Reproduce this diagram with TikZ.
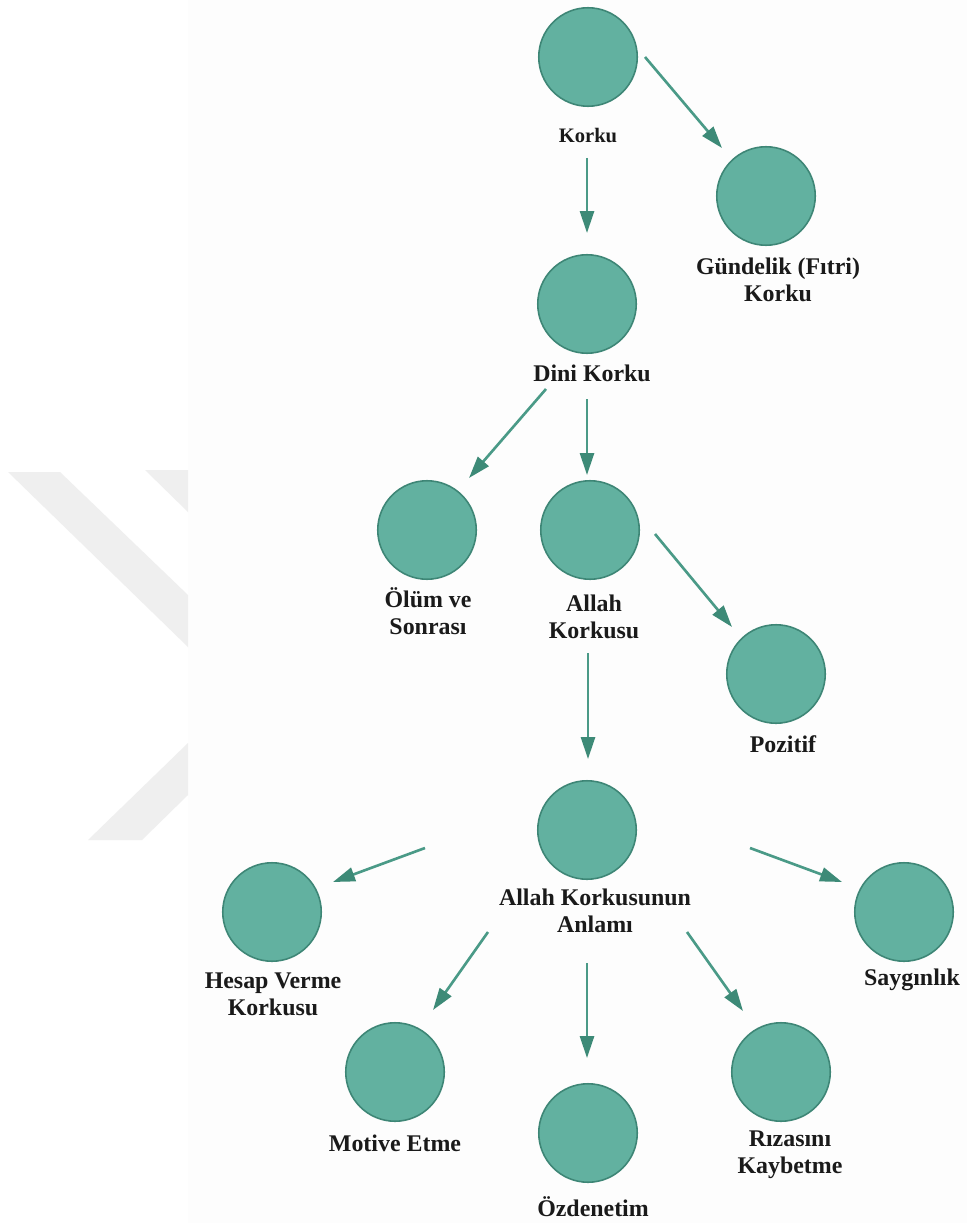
\documentclass[tikz,border=0pt]{standalone}
\usepackage{fontspec}
\setmainfont{Liberation Serif}
\usetikzlibrary{arrows.meta}
\definecolor{nodefill}{HTML}{62B1A0}
\definecolor{nodeedge}{HTML}{3E8676}
\definecolor{arrowcol}{HTML}{4A9A87}
\definecolor{headcol}{HTML}{3D8A77}
\definecolor{wmark}{HTML}{EFEFEF}
\definecolor{paper}{HTML}{FDFDFD}
\definecolor{ink}{HTML}{1A1A1A}
\begin{document}
\begin{tikzpicture}[x=0.02cm,y=-0.02cm,
  bubble/.style={circle,fill=nodefill,draw=nodeedge,line width=0.9pt,minimum size=1.97cm,inner sep=0pt},
  lbl/.style={font=\fontsize{13.6}{15.5}\selectfont\bfseries,text=ink,align=center,inner sep=0pt},
  smalllbl/.style={lbl,font=\fontsize{11.7}{14}\selectfont\bfseries},
  link/.style={draw=arrowcol,line width=1.5pt,-{Triangle[length=12.5pt,width=8pt,color=headcol]}}]
\useasboundingbox (0,0) rectangle (967,1223);
\fill[white] (0,0) rectangle (967,1223);
\fill[paper] (188,0) rectangle (967,1223);
% faint watermark
\fill[wmark] (8,472) -- (60,472) -- (188,595) -- (188,647) -- cycle;
\fill[wmark] (145,470) -- (188,470) -- (188,512) -- cycle;
\fill[wmark] (188,743) -- (188,795) -- (142,840) -- (88,840) -- cycle;
% nodes
\node[bubble] (korku) at (588,57) {};
\node[smalllbl] (korkuL) at (588,135) {Korku};
\node[bubble] (gundelik) at (766,196) {};
\node[lbl] (gundelikL) at (778,280) {Gündelik (Fıtri)\\Korku};
\node[bubble] (dini) at (587,304) {};
\node[lbl] (diniL) at (592,373) {Dini Korku};
\node[bubble] (olum) at (427,530) {};
\node[lbl] (olumL) at (428,611) {Ölüm ve\\Sonrası};
\node[bubble] (allah) at (590,530) {};
\node[lbl] (allahL) at (594,617) {Allah\\Korkusu};
\node[bubble] (pozitif) at (776,674) {};
\node[lbl] (pozitifL) at (783,744) {Pozitif};
\node[bubble] (anlam) at (587,830) {};
\node[lbl] (anlamL) at (595,911) {Allah Korkusunun\\Anlamı};
\node[bubble] (hesap) at (272,912) {};
\node[lbl] (hesapL) at (273,994) {Hesap Verme\\Korkusu};
\node[bubble] (saygi) at (904,912) {};
\node[lbl] (saygiL) at (912,980) {Saygınlık};
\node[bubble] (motive) at (395,1072) {};
\node[lbl] (motiveL) at (395,1143) {Motive Etme};
\node[bubble] (oz) at (588,1133) {};
\node[lbl] (ozL) at (593,1207) {Özdenetim};
\node[bubble] (riza) at (781,1072) {};
\node[lbl] (rizaL) at (790,1155) {Rızasını\\Kaybetme};
% connector ends
\coordinate (s1) at (645,57);  \coordinate (e1) at (722,148);
\coordinate (s2) at (587,158); \coordinate (e2) at (587,233);
\coordinate (s3) at (546,389); \coordinate (e3) at (469,478);
\coordinate (s4) at (587,399); \coordinate (e4) at (587,475);
\coordinate (s5) at (655,534); \coordinate (e5) at (732,627);
\coordinate (s6) at (588,653); \coordinate (e6) at (588,759);
\coordinate (s7) at (425,848); \coordinate (e7) at (333,882);
\coordinate (s8) at (488,932); \coordinate (e8) at (433,1010);
\coordinate (s9) at (587,963); \coordinate (e9) at (587,1058);
\coordinate (s10) at (687,932); \coordinate (e10) at (743,1011);
\coordinate (s11) at (750,848); \coordinate (e11) at (842,882);
\draw[link] (s1) -- (e1);
\draw[link] (s2) -- (e2);
\draw[link] (s3) -- (e3);
\draw[link] (s4) -- (e4);
\draw[link] (s5) -- (e5);
\draw[link] (s6) -- (e6);
\draw[link] (s7) -- (e7);
\draw[link] (s8) -- (e8);
\draw[link] (s9) -- (e9);
\draw[link] (s10) -- (e10);
\draw[link] (s11) -- (e11);
\end{tikzpicture}
\end{document}
